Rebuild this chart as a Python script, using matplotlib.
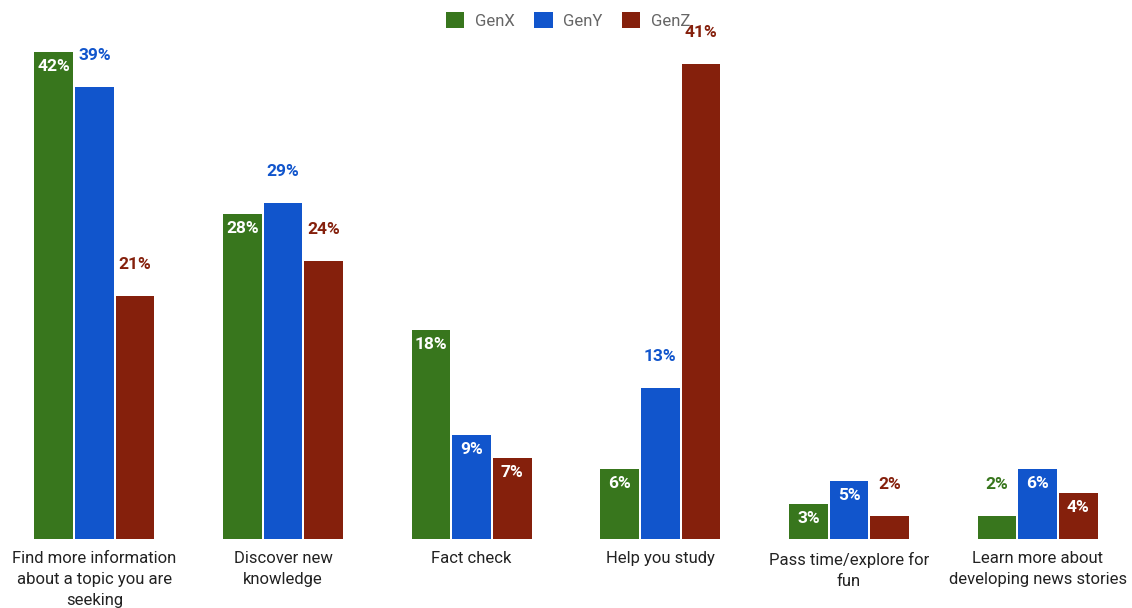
import matplotlib.pyplot as plt
import numpy as np

plt.rcParams['font.family'] = ['Roboto', 'DejaVu Sans']

categories = ["Find more information\nabout a topic you are\nseeking",
              "Discover new\nknowledge",
              "Fact check",
              "Help you study",
              "Pass time/explore for\nfun",
              "Learn more about\ndeveloping news stories"]
series = ["GenX", "GenY", "GenZ"]
genx = [42, 28, 18, 6, 3, 2]
geny = [39, 29, 9, 13, 5, 6]
genz = [21, 24, 7, 41, 2, 4]
# True: value written inside the bar top, False: above the bar
inside = [[True, True, True, True, True, False],
          [False, False, True, False, True, True],
          [False, False, True, False, False, True]]
colors = ["#38761d", "#1155cc", "#85200c"]

fig = plt.figure(figsize=(11.32, 6.08), dpi=100)
ax = fig.add_axes([0.0, 0.1135, 1.0, 0.858])

x = np.arange(len(categories))
w = 0.205
for i, (name, vals) in enumerate(zip(series, [genx, geny, genz])):
    pos = x + (i - 1) * (w + 0.01)
    ax.bar(pos, vals, width=w, color=colors[i], label=name, zorder=2)
    for p, v, inn in zip(pos, vals, inside[i]):
        if inn:
            ax.text(p, v - 1.25, f"{v}%", ha='center', va='center', color='white',
                    fontsize=12.5, fontweight='bold')
        else:
            ax.text(p, v + 2.7, f"{v}%", ha='center', va='center', color=colors[i],
                    fontsize=12.5, fontweight='bold')

ax.set_xlim(-0.5, len(categories) - 0.5)
ax.set_ylim(0, 45)
ax.set_xticks(x)
ax.set_xticklabels(categories, fontsize=12, color='#222222', linespacing=1.5)
ax.tick_params(axis='x', length=0, pad=9)
ax.set_yticks([])
for s in ax.spines.values():
    s.set_visible(False)

fig.legend(loc='upper center', bbox_to_anchor=(0.502, 1.005), ncol=3, frameon=False,
           fontsize=12, labelcolor='#666666', handlelength=1.1, handleheight=1.1,
           columnspacing=1.15, handletextpad=0.65)

fig.savefig("out.png", dpi=100)
